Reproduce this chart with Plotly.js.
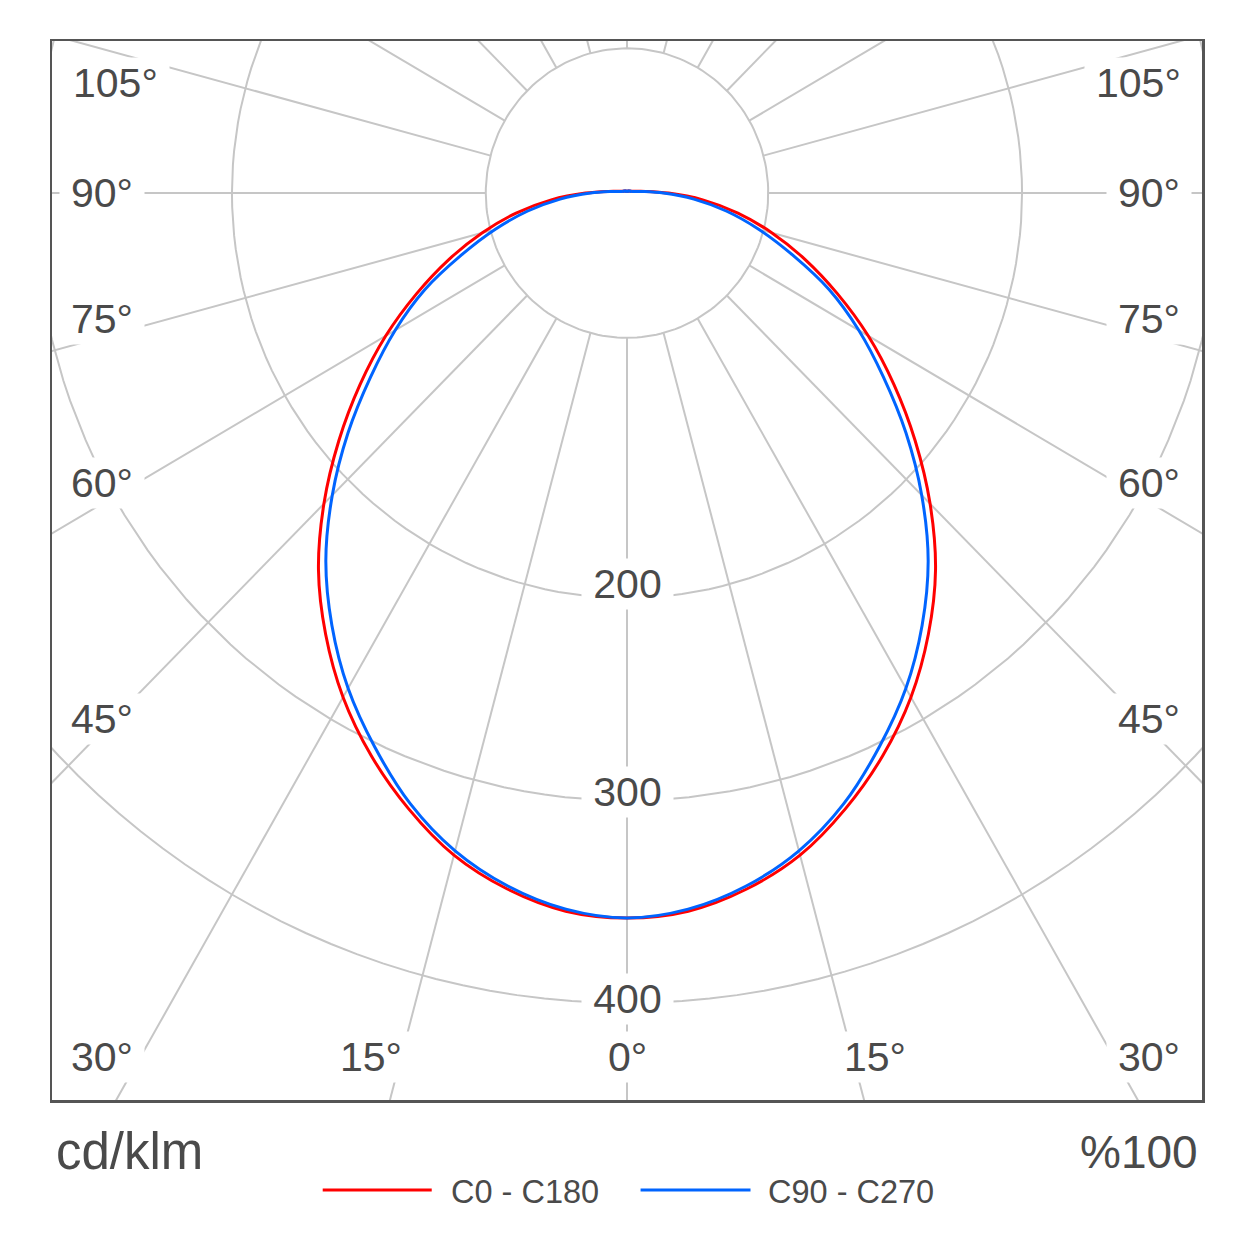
<!DOCTYPE html>
<html>
<head>
<meta charset="utf-8">
<script src="https://cdn.plot.ly/plotly-3.0.1.min.js"></script>
<style>
  html, body { margin: 0; padding: 0; background: #ffffff; }
  #chart { width: 1254px; height: 1254px; }
</style>
</head>
<body>
<div id="chart"></div>
<script>
// Luminous intensity (cd/klm) by gamma angle
const GAMMA = [0, 5, 10, 15, 20, 25, 30, 35, 40, 45, 50, 55, 60, 65, 70, 75, 80, 85, 90,
               95, 100, 105, 110, 115, 120, 125, 130, 135, 140, 145, 150, 155, 160, 165, 170, 175, 180];
const C0_C180 = [358, 356, 349, 338.5, 323.5, 306.5, 287.5, 266, 243, 217, 190.5, 165, 141, 117.5, 96, 76, 57, 38.5, 21,
                 9.5, 5, 3.5, 2.5, 2, 2, 1.5, 1.5, 1.5, 1.5, 1, 1, 1, 1, 1, 1, 1, 1];
const C90_C270 = [358, 355, 347.5, 336.3, 320.9, 302, 282.4, 260.5, 237.2, 211, 184.4, 158.5, 135.5, 113, 89, 69, 51, 34, 18.5,
                  8.5, 4.5, 3, 2.5, 2, 2, 1.5, 1.5, 1.5, 1.5, 1, 1, 1, 1, 1, 1, 1, 1];

const RING_VALUES = [200, 300, 400];
const RING_LABELS = ['200', '300', '400'];
const INNER_R = 71.5;
const SPOKE_STEP = 15;
const ANGLE_TICKS = [0, 15, 30, 45, 60, 75, 90, 105];

const GRID = '#c6c6c6';
const TEXT = '#4a4a4a';
const FONT = '"Liberation Sans", Arial, sans-serif';
const RED = '#ff0000';
const BLUE = '#0064ff';

const rad = d => d * Math.PI / 180;

// gamma measured from straight down; left half = C180 / C270, right half = C0 / C90
function curve(values) {
    const x = [], y = [];
    for (let i = GAMMA.length - 1; i >= 0; i--) {
        x.push(-values[i] * Math.sin(rad(GAMMA[i])));
        y.push(-values[i] * Math.cos(rad(GAMMA[i])));
    }
    // skip gamma 0 on the way back so the bottom point is not doubled
    for (let i = 1; i < GAMMA.length; i++) {
        x.push(values[i] * Math.sin(rad(GAMMA[i])));
        y.push(-values[i] * Math.cos(rad(GAMMA[i])));
    }
    return { x, y };
}

function circle(r) {
    const x = [], y = [];
    for (let a = 0; a <= 360; a += 2) {
        x.push(r * Math.sin(rad(a)));
        y.push(r * Math.cos(rad(a)));
    }
    return { x, y };
}

// grid: rings + inner circle
const ringX = [], ringY = [];
[INNER_R, ...RING_VALUES].forEach(r => {
    const c = circle(r);
    ringX.push(...c.x, null);
    ringY.push(...c.y, null);
});

// grid: spokes every 15 degrees, starting at the inner circle
const spokeX = [], spokeY = [];
for (let a = 0; a < 360; a += SPOKE_STEP) {
    spokeX.push(INNER_R * Math.sin(rad(a)), 900 * Math.sin(rad(a)), null);
    spokeY.push(-INNER_R * Math.cos(rad(a)), -900 * Math.cos(rad(a)), null);
}

const red = curve(C0_C180);
const blue = curve(C90_C270);

const traces = [
    { x: ringX, y: ringY, type: 'scatter', mode: 'lines', line: { color: GRID, width: 2 },
      hoverinfo: 'skip', showlegend: false },
    { x: spokeX, y: spokeY, type: 'scatter', mode: 'lines', line: { color: GRID, width: 2 },
      hoverinfo: 'skip', showlegend: false },
    { x: red.x, y: red.y, name: 'C0 - C180', type: 'scatter', mode: 'lines',
      line: { color: RED, width: 3, shape: 'spline', smoothing: 1 }, showlegend: false },
    { x: blue.x, y: blue.y, name: 'C90 - C270', type: 'scatter', mode: 'lines',
      line: { color: BLUE, width: 3, shape: 'spline', smoothing: 1 }, showlegend: false }
];

// label placement (data units), left / right column and bottom row
const LEFT_X = -265.6, RIGHT_X = 264.3, BOTTOM_Y = -426.7;
const anglePos = {
    0:   [[0, BOTTOM_Y]],
    15:  [[-129.4, BOTTOM_Y], [125.3, BOTTOM_Y]],
    30:  [[LEFT_X, BOTTOM_Y], [RIGHT_X, BOTTOM_Y]],
    45:  [[LEFT_X, -259.5], [RIGHT_X, -259.5]],
    60:  [[LEFT_X, -143.0], [RIGHT_X, -143.0]],
    75:  [[LEFT_X, -62.2], [RIGHT_X, -62.2]],
    90:  [[LEFT_X, 0], [RIGHT_X, 0]],
    105: [[-259.2, 54.3], [259.0, 54.3]]
};
const ringLabelY = [-193.1, -296.0, -397.8];

const annotations = [];
const fs = 41;
ANGLE_TICKS.forEach(t => {
    const txt = t + '°';
    const w = (String(t).length * 0.556 + 0.4) * fs + 22;
    anglePos[t].forEach(p => {
        annotations.push({
            x: p[0], y: p[1], xref: 'x', yref: 'y', text: txt, showarrow: false,
            xanchor: 'center', yanchor: 'middle', width: w, height: 50, borderpad: 0,
            bgcolor: '#ffffff', font: { family: FONT, size: fs, color: TEXT }
        });
    });
});
RING_LABELS.forEach((lab, i) => {
    annotations.push({
        x: 0, y: ringLabelY[i], xref: 'x', yref: 'y', text: lab, showarrow: false,
        xanchor: 'center', yanchor: 'middle', width: 91, height: 50, borderpad: 0,
        bgcolor: '#ffffff', font: { family: FONT, size: fs, color: TEXT }
    });
});

// unit captions and the hand-drawn legend
annotations.push(
    { x: 0.002, y: -0.049, xref: 'paper', yref: 'paper', text: 'cd/klm', showarrow: false,
      xanchor: 'left', yanchor: 'middle', font: { family: FONT, size: 51, color: TEXT } },
    { x: 0.998, y: -0.049, xref: 'paper', yref: 'paper', text: '%100', showarrow: false,
      xanchor: 'right', yanchor: 'middle', font: { family: FONT, size: 46, color: TEXT } },
    { x: 0.3448, y: -0.0865, xref: 'paper', yref: 'paper', text: traces[2].name, showarrow: false,
      xanchor: 'left', yanchor: 'middle', font: { family: FONT, size: 32.5, color: TEXT } },
    { x: 0.6206, y: -0.0865, xref: 'paper', yref: 'paper', text: traces[3].name, showarrow: false,
      xanchor: 'left', yanchor: 'middle', font: { family: FONT, size: 32.5, color: TEXT } }
);

const shapes = [
    { type: 'line', xref: 'paper', yref: 'paper', x0: 0.2354, x1: 0.3302, y0: -0.085, y1: -0.085,
      line: { color: RED, width: 3 } },
    { type: 'line', xref: 'paper', yref: 'paper', x0: 0.5118, x1: 0.6074, y0: -0.085, y1: -0.085,
      line: { color: BLUE, width: 3 } }
];

const axisBase = {
    showgrid: false, zeroline: false, showticklabels: false, ticks: '',
    showline: true, mirror: true, linecolor: '#555555', linewidth: 2.5, fixedrange: true
};

const layout = {
    width: 1254, height: 1254,
    margin: { l: 52, r: 52, t: 41, b: 154, pad: 0 },
    paper_bgcolor: '#ffffff', plot_bgcolor: '#ffffff',
    xaxis: Object.assign({ range: [-291.1, 291.1] }, axisBase),
    yaxis: Object.assign({ range: [-447.9, 75.1] }, axisBase),
    annotations: annotations,
    shapes: shapes,
    showlegend: false,
    font: { family: FONT, color: TEXT }
};

Plotly.newPlot('chart', traces, layout, { staticPlot: true, displayModeBar: false });
</script>
</body>
</html>
